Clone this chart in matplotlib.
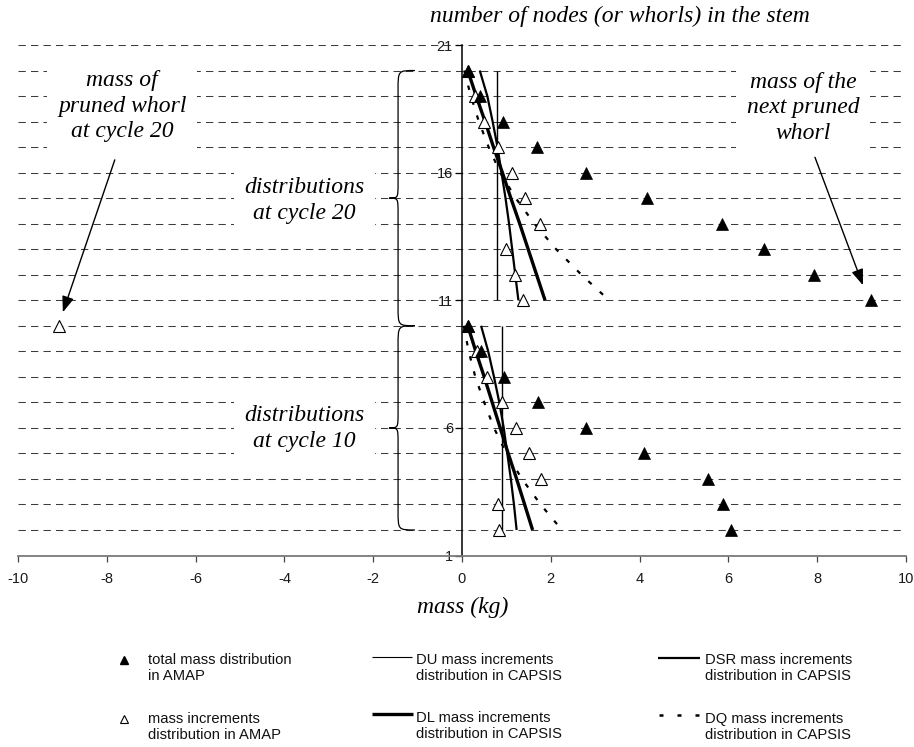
import matplotlib
matplotlib.use('Agg')
import matplotlib.pyplot as plt
from matplotlib.path import Path
from matplotlib.patches import PathPatch

# ---------------- data ----------------
whorls_c20 = [20, 19, 18, 17, 16, 15, 14, 13, 12, 11]
whorls_c10 = [10, 9, 8, 7, 6, 5, 4, 3, 2]

total_c20 = [0.13, 0.40, 0.93, 1.70, 2.79, 4.17, 5.86, 6.80, 7.93, 9.21]
incr_c20 = [0.13, 0.30, 0.50, 0.80, 1.13, 1.43, 1.76, 1.00, 1.19, 1.38]
du_c20 = [0.79, 0.79, 0.79, 0.79, 0.79, 0.79, 0.79, 0.79, 0.79, 0.79]
dl_c20 = [0.13, 0.32, 0.52, 0.71, 0.91, 1.10, 1.30, 1.49, 1.68, 1.87]
dsr_c20 = [0.40, 0.57, 0.69, 0.80, 0.89, 0.98, 1.06, 1.13, 1.20, 1.27]
dq_c20 = [0.05, 0.20, 0.38, 0.60, 0.86, 1.21, 1.63, 2.12, 2.69, 3.31]

total_c10 = [0.13, 0.42, 0.95, 1.72, 2.79, 4.10, 5.54, 5.88, 6.06]
incr_c10 = [0.13, 0.33, 0.57, 0.89, 1.21, 1.52, 1.79, 0.80, 0.83]
du_c10 = [0.89, 0.89, 0.89, 0.89, 0.89, 0.89, 0.89, 0.89, 0.89]
dl_c10 = [0.13, 0.31, 0.50, 0.68, 0.86, 1.04, 1.23, 1.41, 1.59]
dsr_c10 = [0.43, 0.59, 0.72, 0.84, 0.94, 1.02, 1.10, 1.17, 1.23]
dq_c10 = [0.04, 0.15, 0.30, 0.50, 0.72, 1.00, 1.35, 1.77, 2.25]

pruned_whorl = [10]
pruned_mass = [-9.08]

x_ticks = [-10, -8, -6, -4, -2, 0, 2, 4, 6, 8, 10]
y_ticks = [1, 6, 11, 16, 21]
grid_levels = list(range(2, 22))

SERIF = 'Liberation Serif'
SANS = 'Liberation Sans'

# ---------------- figure ----------------
W, H = 914, 747
fig = plt.figure(figsize=(W / 100, H / 100), dpi=100)
ax = fig.add_axes([18 / W, 1 - 555.5 / H, 888 / W, 510.5 / H])
ax.set_xlim(-10, 10)
ax.set_ylim(1, 21)

# dashed horizontal gridlines
for g in grid_levels:
    ax.axhline(g, color='#3c3c3c', lw=0.75, linestyle=(0, (7, 5)), zorder=1)

# spines
ax.spines['top'].set_visible(False)
ax.spines['right'].set_visible(False)
ax.spines['left'].set_position(('data', 0))
ax.spines['left'].set_color('black')
ax.spines['left'].set_linewidth(1.1)
ax.spines['left'].set_zorder(2)
ax.spines['bottom'].set_color('#7a7a7a')
ax.spines['bottom'].set_linewidth(1.3)

ax.set_xticks(x_ticks)
ax.set_xticklabels([str(v) for v in x_ticks])
ax.set_yticks(y_ticks)
ax.set_yticklabels([str(v) for v in y_ticks])
ax.tick_params(axis='x', direction='out', length=4, width=0.9, color='#444444',
               pad=8, labelsize=10.5)
ax.tick_params(axis='y', direction='out', length=5, width=0.9, color='black',
               pad=1.5, labelsize=10.5)
for lab in ax.get_xticklabels() + ax.get_yticklabels():
    lab.set_fontfamily(SANS)
    lab.set_color('#1a1a1a')

# ---------------- model lines ----------------
for ys, du, dl, dsr, dq in [(whorls_c20, du_c20, dl_c20, dsr_c20, dq_c20),
                            (whorls_c10, du_c10, dl_c10, dsr_c10, dq_c10)]:
    ax.plot(du, ys, color='black', lw=1.0, zorder=3, solid_capstyle='butt')
    ax.plot(dsr, ys, color='black', lw=1.6, zorder=3, solid_capstyle='butt')
    ax.plot(dl, ys, color='black', lw=2.4, zorder=3, solid_capstyle='butt')
    ax.plot(dq, ys, color='black', lw=1.6, linestyle=(0, (2, 5)), zorder=3,
            dash_capstyle='butt')

# ---------------- AMAP markers ----------------
ms = 8.5
for ys, inc in [(whorls_c20, incr_c20), (whorls_c10, incr_c10), (pruned_whorl, pruned_mass)]:
    ax.plot(inc, ys, linestyle='none', marker='^', markersize=ms,
            markerfacecolor='white', markeredgecolor='black', markeredgewidth=0.8,
            zorder=4)
for ys, tot in [(whorls_c20, total_c20), (whorls_c10, total_c10)]:
    ax.plot(tot, ys, linestyle='none', marker='^', markersize=ms,
            markerfacecolor='black', markeredgecolor='black', markeredgewidth=0.5,
            zorder=5)

# ---------------- braces ----------------
def brace(y_top, y_bot, x_end=-1.06, x_spine=-1.44, x_tip=-1.64, d_end=0.75, d_tip=0.6):
    ym = (y_top + y_bot) / 2.0
    verts = [
        (x_end, y_top),
        (x_spine, y_top), (x_spine, y_top), (x_spine, y_top - d_end),
        (x_spine, ym + d_tip),
        (x_spine, ym), (x_spine, ym), (x_tip, ym),
        (x_spine, ym), (x_spine, ym), (x_spine, ym - d_tip),
        (x_spine, y_bot + d_end),
        (x_spine, y_bot), (x_spine, y_bot), (x_end, y_bot),
    ]
    codes = [Path.MOVETO,
             Path.CURVE4, Path.CURVE4, Path.CURVE4,
             Path.LINETO,
             Path.CURVE4, Path.CURVE4, Path.CURVE4,
             Path.CURVE4, Path.CURVE4, Path.CURVE4,
             Path.LINETO,
             Path.CURVE4, Path.CURVE4, Path.CURVE4]
    ax.add_patch(PathPatch(Path(verts, codes), facecolor='none', edgecolor='black',
                           lw=0.9, zorder=3))

brace(whorls_c20[0], whorls_c10[0])
brace(whorls_c10[0], whorls_c10[-1])

# ---------------- annotations ----------------
tkw = dict(fontfamily=SERIF, fontstyle='italic', fontsize=17, ha='center', va='center',
           linespacing=1.28, zorder=6,
           bbox=dict(boxstyle='square,pad=0.45', facecolor='white', edgecolor='none'))
ax.text(-3.55, 14.9, 'distributions\nat cycle 20', **tkw)
ax.text(-3.55, 5.98, 'distributions\nat cycle 10', **tkw)
ax.text(-7.65, 18.6, 'mass of\npruned whorl\nat cycle 20', **tkw)
ax.text(7.68, 18.55, 'mass of the\nnext pruned\nwhorl', **tkw)

akw = dict(arrowstyle='-|>,head_length=0.8,head_width=0.3', color='black', lw=1.0,
           mutation_scale=12, shrinkA=0, shrinkB=0)
ax.annotate('', xy=(-8.99, 10.53), xytext=(-7.82, 16.5), arrowprops=akw, zorder=7)
ax.annotate('', xy=(9.03, 11.59), xytext=(7.95, 16.6), arrowprops=akw, zorder=7)

fig.text(620 / W, 1 - 16 / H, 'number of nodes (or whorls) in the stem', fontfamily=SERIF,
         fontstyle='italic', fontsize=17, ha='center', va='center')
fig.text(463 / W, 1 - 607 / H, 'mass (kg)', fontfamily=SERIF, fontstyle='italic',
         fontsize=17, ha='center', va='center')

# ---------------- legend (custom layout, pixel coordinates) ----------------
lax = fig.add_axes([0, 0, 1, 1])
lax.set_xlim(0, W)
lax.set_ylim(H, 0)
lax.axis('off')
lkw = dict(fontfamily=SANS, fontsize=10.6, ha='left', va='center', linespacing=1.12,
           color='#111111')

lax.plot([124], [660], marker='^', markersize=5.5, color='black', linestyle='none')
lax.text(148, 668, 'total mass distribution\nin AMAP', **lkw)
lax.plot([124], [719], marker='^', markersize=5.5, markerfacecolor='white',
         markeredgecolor='black', markeredgewidth=0.8, linestyle='none')
lax.text(148, 727, 'mass increments\ndistribution in AMAP', **lkw)

lax.plot([372, 412], [657, 657], color='black', lw=0.8, solid_capstyle='butt')
lax.text(416, 668, 'DU mass increments\ndistribution in CAPSIS', **lkw)
lax.plot([372, 413], [714, 714], color='black', lw=2.4, solid_capstyle='butt')
lax.text(416, 726, 'DL mass increments\ndistribution in CAPSIS', **lkw)

lax.plot([658, 700], [658, 658], color='black', lw=1.6, solid_capstyle='butt')
lax.text(705, 668, 'DSR mass increments\ndistribution in CAPSIS', **lkw)
lax.plot([659, 700], [715, 715], color='black', lw=1.8, linestyle=(0, (1.6, 5.6)),
         dash_capstyle='butt')
lax.text(705, 727, 'DQ mass increments\ndistribution in CAPSIS', **lkw)

fig.savefig('out.png', dpi=100)
